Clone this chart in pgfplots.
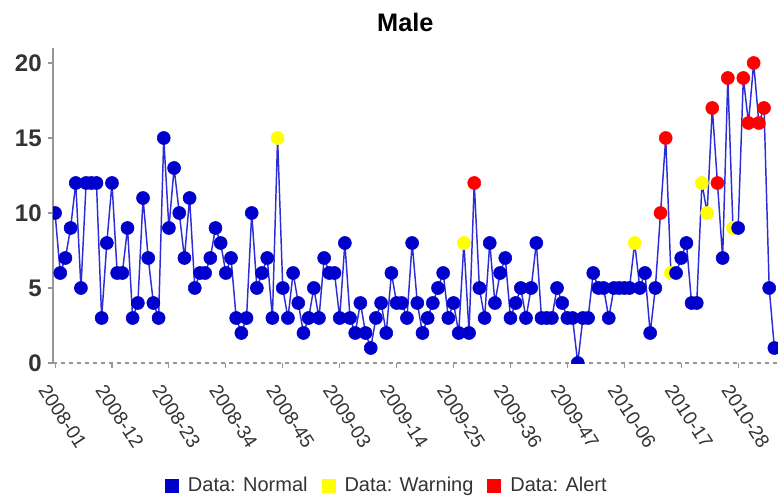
\documentclass[border=0pt]{standalone}
\usepackage{pgfplots}
\pgfplotsset{compat=1.18}
\usepackage{pgfplotstable}
\usepackage{fontspec}
\setmainfont{Liberation Sans}
\definecolor{nblue}{RGB}{0,0,204}
\definecolor{lblue}{RGB}{45,45,215}
\definecolor{wyel}{RGB}{255,255,0}
\definecolor{ared}{RGB}{255,0,0}
\definecolor{axgray}{RGB}{150,150,150}
\definecolor{txt}{RGB}{51,51,51}

\pgfplotstableread{
x y c
0 10 n
1 6 n
2 7 n
3 9 n
4 12 n
5 5 n
6 12 n
7 12 n
8 12 n
9 3 n
10 8 n
11 12 n
12 6 n
13 6 n
14 9 n
15 3 n
16 4 n
17 11 n
18 7 n
19 4 n
20 3 n
21 15 n
22 9 n
23 13 n
24 10 n
25 7 n
26 11 n
27 5 n
28 6 n
29 6 n
30 7 n
31 9 n
32 8 n
33 6 n
34 7 n
35 3 n
36 2 n
37 3 n
38 10 n
39 5 n
40 6 n
41 7 n
42 3 n
43 15 w
44 5 n
45 3 n
46 6 n
47 4 n
48 2 n
49 3 n
50 5 n
51 3 n
52 7 n
53 6 n
54 6 n
55 3 n
56 8 n
57 3 n
58 2 n
59 4 n
60 2 n
61 1 n
62 3 n
63 4 n
64 2 n
65 6 n
66 4 n
67 4 n
68 3 n
69 8 n
70 4 n
71 2 n
72 3 n
73 4 n
74 5 n
75 6 n
76 3 n
77 4 n
78 2 n
79 8 w
80 2 n
81 12 a
82 5 n
83 3 n
84 8 n
85 4 n
86 6 n
87 7 n
88 3 n
89 4 n
90 5 n
91 3 n
92 5 n
93 8 n
94 3 n
95 3 n
96 3 n
97 5 n
98 4 n
99 3 n
100 3 n
101 0 n
102 3 n
103 3 n
104 6 n
105 5 n
106 5 n
107 3 n
108 5 n
109 5 n
110 5 n
111 5 n
112 8 w
113 5 n
114 6 n
115 2 n
116 5 n
117 10 a
118 15 a
119 6 w
120 6 n
121 7 n
122 8 n
123 4 n
124 4 n
125 12 w
126 10 w
127 17 a
128 12 a
129 7 n
130 19 a
131 9 w
132 9 n
133 19 a
134 16 a
135 20 a
136 16 a
137 17 a
138 5 n
139 1 n
}\datatable

\begin{document}
\begin{tikzpicture}
\begin{axis}[
  name=ax, at={(0,0)}, anchor=south west,
  scale only axis, width=543.75pt, height=236.25pt,
  xmin=-0.4, xmax=139.7, ymin=0, ymax=21,
  axis lines*=left,
  x axis line style={axgray, dashed, line width=0.8pt},
  y axis line style={axgray, line width=1.2pt},
  tick align=outside,
  major tick length=4pt,
  tick style={axgray, line width=0.8pt},
  xtick={0,11,...,132},
  xticklabels={2008-01,2008-12,2008-23,2008-34,2008-45,2009-03,2009-14,2009-25,2009-36,2009-47,2010-06,2010-17,2010-28},
  xticklabel style={font=\fontsize{14.5}{16}\selectfont, text=txt, rotate=-57, anchor=west, inner sep=0pt, xshift=6.4pt, yshift=-14.7pt},
  ytick={0,5,10,15,20},
  yticklabel style={font=\bfseries\fontsize{18}{20}\selectfont, text=txt, xshift=-1pt},
  /pgf/number format/assume math mode=true,
  title={Male},
  title style={font=\bfseries\fontsize{19}{22}\selectfont, at={(0.486,1)}, anchor=center, yshift=13.5pt},
  clip marker paths=true,
  legend style={at={(0.461,-0.389)}, anchor=center, draw=none, fill=none,
    legend columns=-1, font=\fontsize{15}{17}\selectfont, text=txt,
    /tikz/every odd column/.append style={column sep=5pt},
    /tikz/every even column/.append style={column sep=8.5pt}},
  legend cell align=left,
]
\addplot[lblue, line width=1.1pt, mark=none, forget plot] table[x=x,y=y]{\datatable};
\addplot[scatter, only marks, scatter src=explicit symbolic, mark size=4.9pt,
  scatter/classes={
    n={mark=*, draw=nblue, fill=nblue},
    w={mark=*, draw=wyel, fill=wyel},
    a={mark=*, draw=ared, fill=ared}},
  legend image code/.code={\fill (0pt,-4.9pt) rectangle (9.75pt,4.9pt);}
  ] table[x=x,y=y,meta=c]{\datatable};
\legend{Data: Normal, Data: Warning, Data: Alert}
\end{axis}
\pgfresetboundingbox
\path (-39.75pt,-102.2pt) rectangle (543.75pt,272.25pt);
\end{tikzpicture}
\end{document}
